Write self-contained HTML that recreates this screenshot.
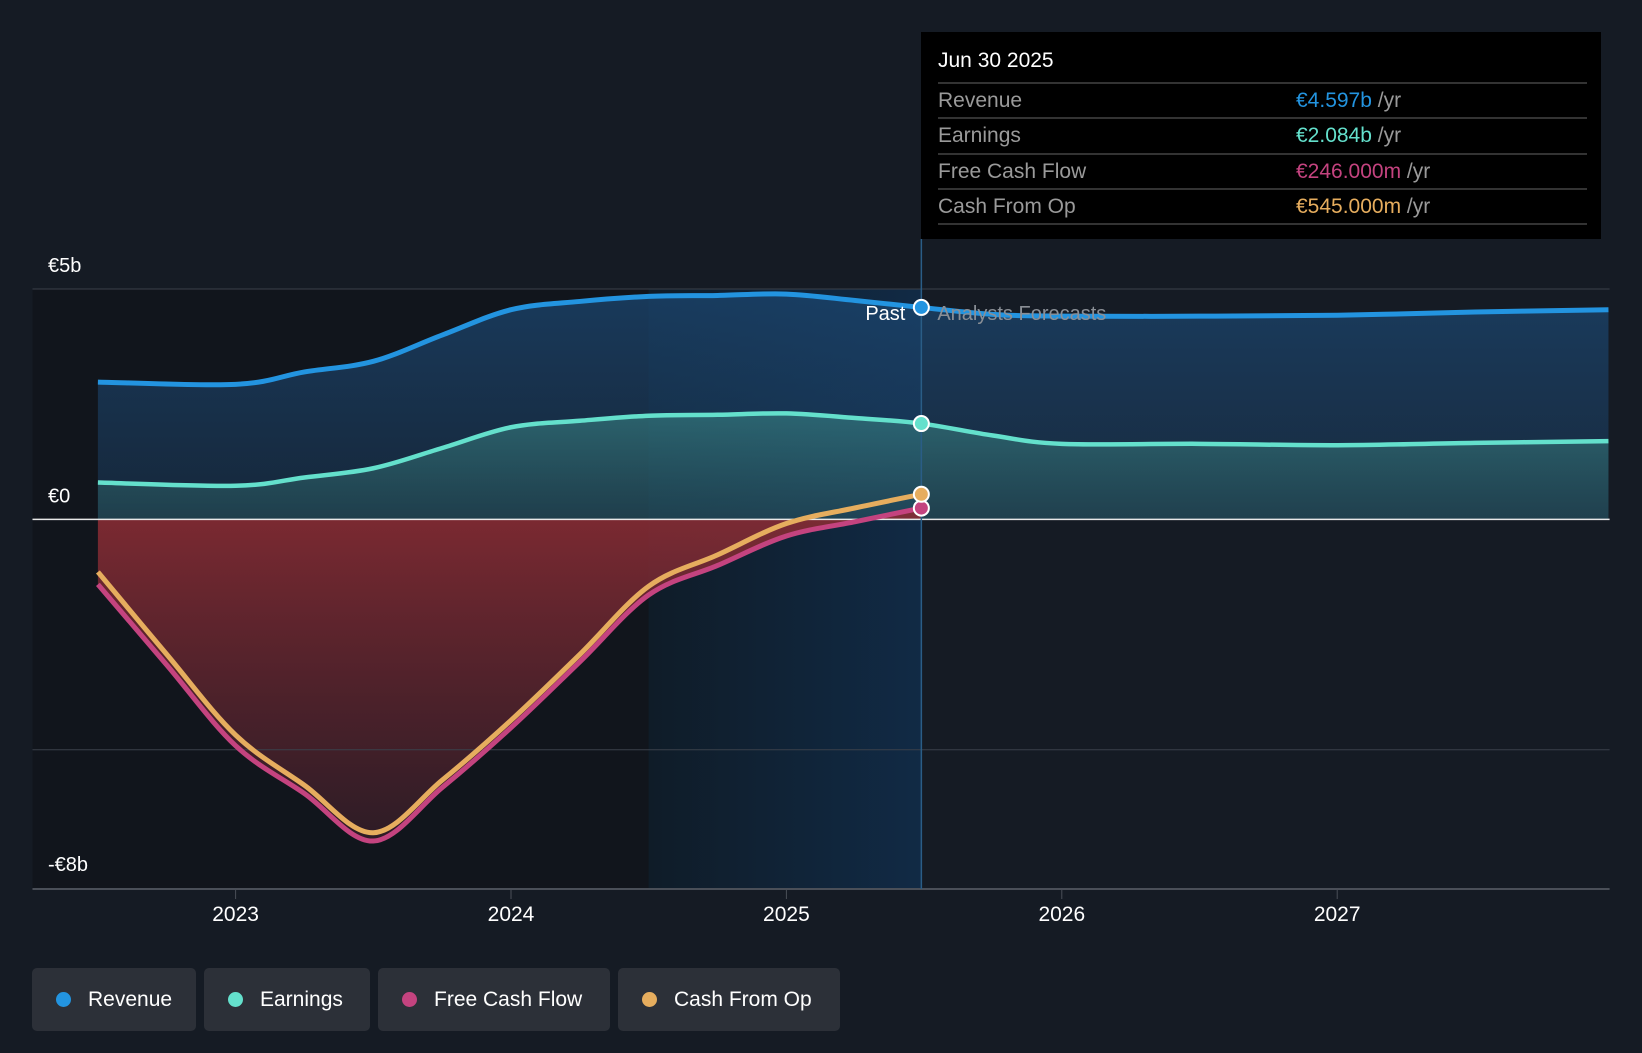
<!DOCTYPE html>
<html><head><meta charset="utf-8"><style>
html,body{margin:0;padding:0;background:#151b24;}
body{width:1642px;height:1048px;overflow:hidden;font-family:"Liberation Sans",sans-serif;}
svg text{font-family:"Liberation Sans",sans-serif;}
</style></head><body>
<svg id="chart" width="1642" height="1048" xmlns="http://www.w3.org/2000/svg">
<defs>
<linearGradient id="bandG" x1="0" x2="1" y1="0" y2="0"><stop offset="0" stop-color="#0f1c28"/><stop offset="1" stop-color="#112a45"/></linearGradient>
<linearGradient id="revG" x1="0" x2="0" y1="0" y2="1"><stop offset="0" stop-color="#1b4670" stop-opacity="0.75"/><stop offset="1" stop-color="#1b3a5a" stop-opacity="0.5"/></linearGradient>
<linearGradient id="earnG" x1="0" x2="0" y1="0" y2="1"><stop offset="0" stop-color="#3c8c8a" stop-opacity="0.55"/><stop offset="1" stop-color="#2a5a60" stop-opacity="0.45"/></linearGradient>
<linearGradient id="fcfG" x1="0" x2="0" y1="0" y2="1"><stop offset="0" stop-color="#8a2c34" stop-opacity="0.9"/><stop offset="1" stop-color="#3a1f2a" stop-opacity="0.7"/></linearGradient>
</defs>
<g id="bg"></g>
<g id="areas"></g>
<g id="grid"></g>
<g id="lines"></g>
<g id="labels"></g>
</svg>
<script>
const NS='http://www.w3.org/2000/svg';
const revT=[2022.5,2023,2023.25,2023.5,2023.75,2024,2024.25,2024.5,2024.75,2025,2025.25,2025.49,2025.75,2026,2026.5,2027,2027.5,2027.985];
const revV=[2.98,2.93,3.2,3.43,4.0,4.55,4.73,4.84,4.86,4.89,4.75,4.6,4.45,4.41,4.41,4.43,4.5,4.55];
const earnT=[2022.5,2023,2023.25,2023.5,2023.75,2024,2024.25,2024.5,2024.75,2025,2025.25,2025.49,2025.75,2026,2026.5,2027,2027.5,2027.985];
const earnV=[0.8,0.73,0.91,1.11,1.55,2.0,2.14,2.25,2.27,2.3,2.2,2.08,1.82,1.64,1.64,1.61,1.66,1.7];
const cashT=[2022.5,2022.75,2023,2023.25,2023.5,2023.75,2024,2024.25,2024.5,2024.75,2025,2025.25,2025.49];
const cfoV=[-1.14,-2.93,-4.68,-5.77,-6.8,-5.66,-4.36,-2.93,-1.45,-0.77,-0.09,0.25,0.545];
const fcfV=[-1.41,-3.16,-4.91,-5.95,-6.98,-5.82,-4.52,-3.09,-1.64,-1.0,-0.36,-0.05,0.246];
const yearTicks=[2023,2024,2025,2026,2027];
const yTickVals=[5,0,-5];
const yLabels=[[5,'€5b'],[0,'€0'],[-8,'-€8b']];
const X=t=>235.6+(t-2023)*275.4;
const Y=v=>519.4-46.08*v;
const L=32.5,R=1609.6,B=889,NOW=2025.49;
function el(tag,attrs,parent,name,inter){const e=document.createElementNS(NS,tag);for(const k in attrs)e.setAttribute(k,attrs[k]);


parent.appendChild(e);return e;}
function pts(T,V){return T.map((t,i)=>[X(t),Y(V[i])]);}
function smooth(p){let d='M'+p[0][0]+','+p[0][1];for(let i=0;i<p.length-1;i++){const p0=p[i-1]||p[i],p1=p[i],p2=p[i+1],p3=p[i+2]||p2;
d+=' C'+(p1[0]+(p2[0]-p0[0])/6)+','+(p1[1]+(p2[1]-p0[1])/6)+' '+(p2[0]-(p3[0]-p1[0])/6)+','+(p2[1]-(p3[1]-p1[1])/6)+' '+p2[0]+','+p2[1];}return d;}
const bgG=document.getElementById('bg'),areas=document.getElementById('areas'),grid=document.getElementById('grid'),lines=document.getElementById('lines'),labels=document.getElementById('labels');
const plotTop=Y(5);
el('rect',{x:L,y:plotTop,width:X(2024.5)-L,height:B-plotTop,fill:'#11151c'},bgG,'past-region',false);
el('rect',{x:X(2024.5),y:plotTop,width:X(NOW)-X(2024.5),height:B-plotTop,fill:'url(#bandG)'},bgG,'highlight-band',false);
const rp=pts(revT,revV),ep=pts(earnT,earnV),fp=pts(cashT,fcfV),cp=pts(cashT,cfoV);
const z=Y(0);
el('path',{d:smooth(rp)+' L'+rp[rp.length-1][0]+','+z+' L'+rp[0][0]+','+z+'Z',fill:'url(#revG)'},areas,'revenue-area',false);
el('path',{d:smooth(ep)+' L'+ep[ep.length-1][0]+','+z+' L'+ep[0][0]+','+z+'Z',fill:'url(#earnG)'},areas,'earnings-area',false);
el('path',{d:smooth(fp)+' L'+fp[fp.length-1][0]+','+z+' L'+fp[0][0]+','+z+'Z',fill:'url(#fcfG)'},areas,'fcf-area',false);
yTickVals.forEach(v=>{el('line',{x1:L,x2:R,y1:Y(v),y2:Y(v),stroke:v===0?'#e8e8e8':'#3a404a','stroke-width':v===0?1.5:1},grid,'gridline',false);});
el('line',{x1:L,x2:R,y1:B,y2:B,stroke:'#4a4f58','stroke-width':2},grid,'x-axis',false);
yearTicks.forEach(t=>{el('line',{x1:X(t),x2:X(t),y1:B,y2:B+10,stroke:'#4a4f58'},grid,'x-tick',false);
const tx=el('text',{x:X(t),y:B+32,fill:'#fff','font-size':21,'text-anchor':'middle'},labels,'x-tick-label',false);tx.textContent=t;});
yLabels.forEach(([v,s])=>{const tx=el('text',{x:48,y:Y(v)-17,fill:'#fff','font-size':20},labels,'y-tick-label',false);tx.textContent=s;});
el('line',{x1:X(NOW),x2:X(NOW),y1:239,y2:B,stroke:'#2a5d86','stroke-width':1.5},grid,'now-line',false);
el('path',{d:smooth(rp),fill:'none',stroke:'#2394e0','stroke-width':5},lines,'revenue-line',false);
el('path',{d:smooth(ep),fill:'none',stroke:'#64e0cc','stroke-width':4.5},lines,'earnings-line',false);
el('path',{d:smooth(fp),fill:'none',stroke:'#c4437f','stroke-width':5},lines,'fcf-line',false);
el('path',{d:smooth(cp),fill:'none',stroke:'#e6ad5e','stroke-width':5},lines,'cfo-line',false);
[[revT,revV,'#2394e0','revenue-marker'],[earnT,earnV,'#64e0cc','earnings-marker'],[cashT,fcfV,'#c4437f','fcf-marker'],[cashT,cfoV,'#e6ad5e','cfo-marker']].forEach(([T,V,c,n])=>{
const i=T.indexOf(NOW);el('circle',{cx:X(NOW),cy:Y(V[i]),r:7.5,fill:c,stroke:'#fff','stroke-width':2},lines,n,true);});
let t1=el('text',{x:X(NOW)-16,y:320,fill:'#fff','font-size':20,'text-anchor':'end'},labels,'past-label',false);t1.textContent='Past';
let t2=el('text',{x:X(NOW)+16,y:320,fill:'#8a8f96','font-size':20},labels,'forecast-label',false);t2.textContent='Analysts Forecasts';
</script>
<div style="position:absolute;left:921px;top:32px;width:680px;height:207px;background:#000;">
<div style="position:absolute;left:17px;top:17px;color:#fff;font-size:21px;">Jun 30 2025</div>
<div style="position:absolute;left:17px;top:50px;width:649px;">
<div style="border-top:2px solid #333;height:33px;line-height:33px;font-size:21px;color:#9a9a9a;position:relative;">Revenue<span style="position:absolute;left:358px;"><span style="color:#2394e0">€4.597b</span> /yr</span></div>
<div style="border-top:2px solid #333;height:34px;line-height:34px;font-size:21px;color:#9a9a9a;position:relative;">Earnings<span style="position:absolute;left:358px;"><span style="color:#64e0cc">€2.084b</span> /yr</span></div>
<div style="border-top:2px solid #333;height:33px;line-height:33px;font-size:21px;color:#9a9a9a;position:relative;">Free Cash Flow<span style="position:absolute;left:358px;"><span style="color:#c4437f">€246.000m</span> /yr</span></div>
<div style="border-top:2px solid #333;border-bottom:2px solid #333;height:33px;line-height:33px;font-size:21px;color:#9a9a9a;position:relative;">Cash From Op<span style="position:absolute;left:358px;"><span style="color:#e6ad5e">€545.000m</span> /yr</span></div>
</div></div>
<div style="position:absolute;left:0;top:968px;">
<div style="position:absolute;left:32px;width:164px;height:63px;background:#2c3038;border-radius:5px;color:#fff;font-size:21px;line-height:63px;"><span style="position:absolute;left:24px;top:24px;width:15px;height:15px;border-radius:50%;background:#2394e0"></span><span style="position:absolute;left:56px;">Revenue</span></div>
<div style="position:absolute;left:204px;width:166px;height:63px;background:#2c3038;border-radius:5px;color:#fff;font-size:21px;line-height:63px;"><span style="position:absolute;left:24px;top:24px;width:15px;height:15px;border-radius:50%;background:#64e0cc"></span><span style="position:absolute;left:56px;">Earnings</span></div>
<div style="position:absolute;left:378px;width:232px;height:63px;background:#2c3038;border-radius:5px;color:#fff;font-size:21px;line-height:63px;"><span style="position:absolute;left:24px;top:24px;width:15px;height:15px;border-radius:50%;background:#c4437f"></span><span style="position:absolute;left:56px;">Free Cash Flow</span></div>
<div style="position:absolute;left:618px;width:222px;height:63px;background:#2c3038;border-radius:5px;color:#fff;font-size:21px;line-height:63px;"><span style="position:absolute;left:24px;top:24px;width:15px;height:15px;border-radius:50%;background:#e6ad5e"></span><span style="position:absolute;left:56px;">Cash From Op</span></div>
</div>
</body></html>
